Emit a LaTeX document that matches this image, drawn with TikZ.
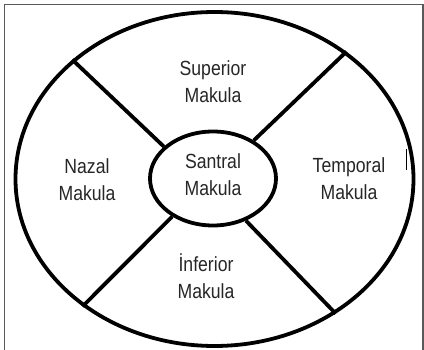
\documentclass[tikz,border=0pt]{standalone}
\usepackage{fontspec}
\setmainfont{Liberation Sans}[FakeStretch=0.86]
\tikzset{region/.style = {font=\fontsize{20.5}{27}\selectfont, align=center, text=black!85}}
\tikzset{divider/.style = {line width=3.8pt}}
\usetikzlibrary{shapes.geometric}

\begin{document}
\begin{tikzpicture}[x=1pt,y=-1pt]
\useasboundingbox (0,0) rectangle (424,350);
\draw[black!65, line width=1.3pt] (4.5,4.5) rectangle (423,360);
\node[draw, divider, ellipse, inner sep=0pt, minimum width=398pt, minimum height=334pt] (eye) at (214.5,179) {};
\node[draw, divider, ellipse, inner sep=0pt, minimum width=126pt, minimum height=94pt] (santral) at (213,178.5) {};
\draw[divider] (eye.140) -- (santral.147);
\draw[divider] (eye.44) -- (santral.43);
\draw[divider] (eye.224) -- (santral.223);
\draw[divider] (eye.312) -- (santral.308);
\draw[line width=1pt] (406.7,149) -- (406.7,170);
\node[region] (superior) at (213,82) {Superior\\Makula};
\node[region] (nazal) at (87,179.5) {Nazal\\Makula};
\node[region] (santraltext) at (213,175) {Santral\\Makula};
\node[region] (temporal) at (349,179) {Temporal\\Makula};
\node[region] (inferior) at (206,276) {İnferior\\Makula};
\end{tikzpicture}
\end{document}
